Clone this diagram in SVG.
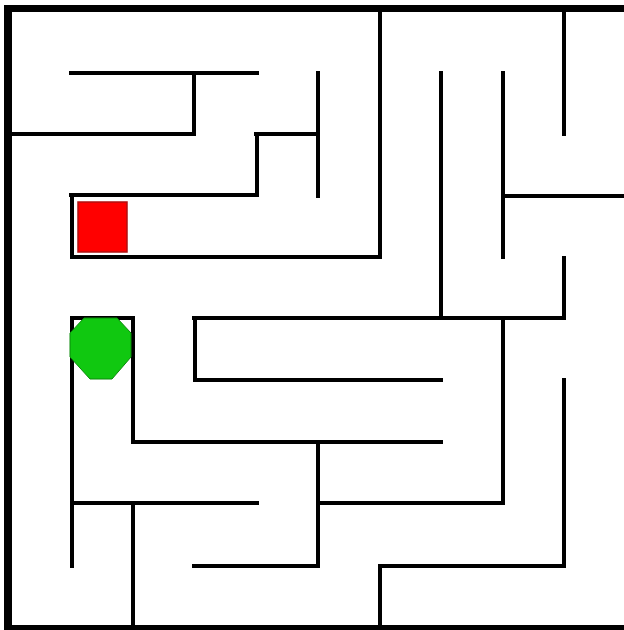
<svg xmlns="http://www.w3.org/2000/svg" width="624" height="630" viewBox="0 0 624 630">
<style>
.w{stroke:#000;stroke-width:4;stroke-linecap:square;fill:none}
.b{fill:#000}
</style>
<rect width="624" height="630" fill="#fff"/>
<g id="border">
<rect class="b" x="4" y="5" width="620" height="7"/>
<rect class="b" x="4" y="5" width="8" height="625"/>
<rect class="b" x="4" y="625" width="620" height="5"/>
</g>
<g id="walls">
<path class="w" d="M71 73H257M194 73V134M11 134H194M256 134H318M257 134V195M71 195H257M72 195V257M72 257H380M318 73V196M380 11V257M441 73V318M503 73V257M503 196H623M564 11V134M564 258V318M194 318H564"/>
<path class="w" d="M72 318H133M72 318V566M133 318V442M133 442H441M318 442V566M72 503H257M133 503V627M194 566H318M195 318V380M195 380H441M318 503H503M503 318V503M564 380V566M380 566H564M380 566V627"/>
</g>
<g id="goal">
<rect x="78" y="202" width="49" height="50" fill="#f00" stroke="#b01010" stroke-width="1.5"/>
</g>
<g id="player">
<polygon points="84,318 117,318 131,333 131,357 112,379 90,379 70,357 70,333" fill="#10c810" stroke="#0a8a0a" stroke-width="1"/>
</g>
</svg>
